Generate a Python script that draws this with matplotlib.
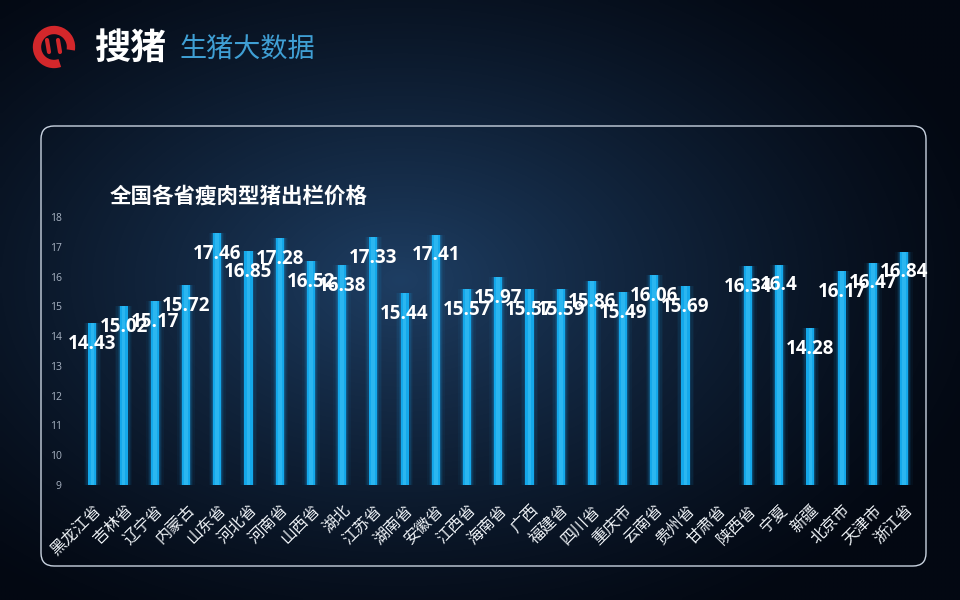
import numpy as np
import matplotlib
matplotlib.use("Agg")
import matplotlib.pyplot as plt
from matplotlib.patches import FancyBboxPatch, Arc

plt.rcParams['font.family'] = ['Noto Sans CJK SC', 'DejaVu Sans']

provinces = ['黑龙江省', '吉林省', '辽宁省', '内蒙古', '山东省', '河北省', '河南省',
             '山西省', '湖北', '江苏省', '湖南省', '安徽省', '江西省', '海南省', '广西',
             '福建省', '四川省', '重庆市', '云南省', '贵州省', '甘肃省', '陕西省', '宁夏',
             '新疆', '北京市', '天津市', '浙江省']
prices = [14.43, 15.02, 15.17, 15.72, 17.46, 16.85, 17.28,
          16.52, 16.38, 17.33, 15.44, 17.41, 15.57, 15.97, 15.57,
          15.59, 15.86, 15.49, 16.06, 15.69, np.nan, 16.34, 16.4,
          14.28, 16.17, 16.47, 16.84]
yticks = [9, 10, 11, 12, 13, 14, 15, 16, 17, 18]
title = '全国各省瘦肉型猪出栏价格'

fig = plt.figure(figsize=(9.6, 6), dpi=100)

# background gradient
bg = fig.add_axes([0, 0, 1, 1], zorder=0)
gx, gy = np.meshgrid(np.linspace(0, 960, 240), np.linspace(0, 600, 150))
r = np.sqrt(((gx - 400) / 620) ** 2 + ((gy - 280) / 400) ** 2)
r = np.clip(r, 0, 1)
inner = np.array([0x1e, 0x3e, 0x63]) / 255
outer = np.array([0x03, 0x08, 0x12]) / 255
k = (1 - r[..., None]) ** 1.3
img = inner[None, None, :] * k + outer[None, None, :] * (1 - k)
bg.imshow(img, extent=[0, 960, 600, 0], aspect='auto', interpolation='bilinear')
bg.set_xlim(0, 960)
bg.set_ylim(600, 0)
bg.axis('off')

# frame
bg.add_patch(FancyBboxPatch((41, 126), 885, 440, boxstyle='round,pad=0,rounding_size=13',
                            fill=False, edgecolor='#c9d3e0', linewidth=1.0))

# logo
bg.add_patch(Arc((54, 47), 34, 34, theta1=70, theta2=370, color='#d3272b', linewidth=6))
bg.plot([47, 49], [40, 52], color='#d3272b', lw=3, solid_capstyle='round')
bg.plot([58, 60], [40, 52], color='#d3272b', lw=3, solid_capstyle='round')
bg.text(94, 48, '搜猪', color='white', fontsize=26, fontweight='bold', va='center', ha='left')
bg.text(180, 49, '生猪大数据', color='#3f9fd4', fontsize=19.5, va='center', ha='left')

# chart title
bg.text(110, 196, title, color='white', fontsize=15.5, fontweight='bold', va='center', ha='left')

ax = fig.add_axes([0.080, 0.1917, 0.878, 0.4467], zorder=1)
ax.patch.set_alpha(0)
x = np.arange(len(provinces))
vals = np.array(prices)
base = 9
# glow layers
for w, a in [(0.56, 0.05), (0.46, 0.08), (0.38, 0.13), (0.31, 0.22)]:
    ax.bar(x, vals - base, bottom=base, width=w, color='#1a9be0', alpha=a, linewidth=0)
ax.bar(x, vals - base, bottom=base, width=0.26, color='#14a8ea', linewidth=0)
ax.bar(x, vals - base, bottom=base, width=0.12, color='#2bb6f0', linewidth=0)

for xi, v in zip(x, prices):
    if np.isnan(v):
        continue
    ax.annotate(f'{v:g}', (xi, v), xytext=(0, -15), textcoords='offset points',
                ha='center', va='center', color='white', fontsize=13.5,
                fontweight='bold', family='Open Sans')

ax.set_xlim(-0.5, len(provinces) - 0.5)
ax.set_ylim(9, 18)
ax.set_yticks(yticks)
ax.set_yticklabels([str(t) for t in yticks], color='#a8b3c2', fontsize=7.5, family='Open Sans')
ax.tick_params(axis='y', length=0, pad=11)
ax.tick_params(axis='x', length=0, pad=12)
ax.set_xticks(x)
ax.set_xticklabels(provinces, rotation=45, ha='right', va='top', rotation_mode='anchor',
                   color='#eef2f6', fontsize=11.5)
for s in ax.spines.values():
    s.set_visible(False)

fig.savefig('out.png', dpi=100)
